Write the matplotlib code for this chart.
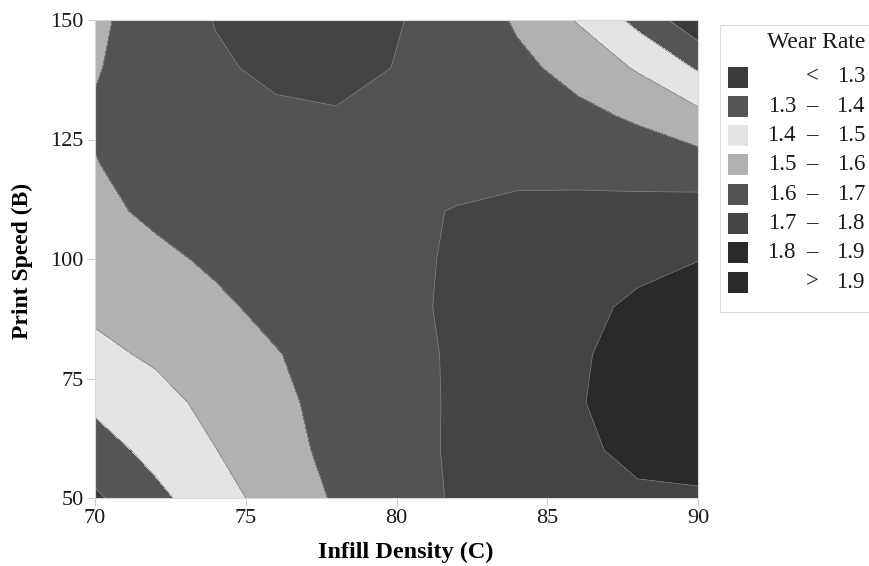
import matplotlib
matplotlib.use("Agg")
import matplotlib.pyplot as plt
import numpy as np
from matplotlib.patches import Rectangle

plt.rcParams["font.family"] = ["Liberation Serif", "DejaVu Serif"]

# grid
infill_density = [70, 72, 74, 76, 78, 80, 82, 84, 86, 88, 90]
print_speed = [50, 60, 70, 80, 90, 100, 110, 120, 130, 140, 150]

# wear rate, one row per print speed (50 -> 150), one column per infill density
wear_b050 = [1.285, 1.375, 1.46, 1.54, 1.61, 1.66, 1.71, 1.74, 1.765, 1.79, 1.79]
wear_b060 = [1.355, 1.43, 1.498, 1.565, 1.625, 1.668, 1.712, 1.745, 1.788, 1.815, 1.83]
wear_b070 = [1.42, 1.465, 1.53, 1.58, 1.63, 1.672, 1.71, 1.75, 1.795, 1.83, 1.85]
wear_b080 = [1.475, 1.515, 1.555, 1.595, 1.64, 1.675, 1.71, 1.745, 1.79, 1.83, 1.855]
wear_b090 = [1.52, 1.55, 1.583, 1.625, 1.66, 1.685, 1.71, 1.74, 1.77, 1.82, 1.84]
wear_b100 = [1.55, 1.58, 1.615, 1.645, 1.668, 1.688, 1.706, 1.725, 1.745, 1.77, 1.798]
wear_b110 = [1.578, 1.617, 1.645, 1.665, 1.68, 1.692, 1.702, 1.715, 1.72, 1.728, 1.74]
wear_b120 = [1.597, 1.635, 1.66, 1.675, 1.683, 1.686, 1.685, 1.68, 1.675, 1.66, 1.64]
wear_b130 = [1.61, 1.645, 1.67, 1.688, 1.695, 1.69, 1.675, 1.66, 1.625, 1.585, 1.525]
wear_b140 = [1.592, 1.655, 1.69, 1.715, 1.72, 1.698, 1.66, 1.625, 1.565, 1.49, 1.39]
wear_b150 = [1.58, 1.65, 1.703, 1.74, 1.74, 1.703, 1.68, 1.586, 1.494, 1.373, 1.23]

thresholds = [1.3, 1.4, 1.5, 1.6, 1.7, 1.8, 1.9]
band_colors = ["#3b3b3b", "#555555", "#e4e4e4", "#b1b1b1",
               "#535353", "#444444", "#2a2a2a", "#2a2a2a"]

wear = np.array([wear_b050, wear_b060, wear_b070, wear_b080, wear_b090, wear_b100,
                 wear_b110, wear_b120, wear_b130, wear_b140, wear_b150])
cc, bb = np.meshgrid(infill_density, print_speed)

fig = plt.figure(figsize=(8.7, 5.66), dpi=100)
ax = fig.add_axes([95 / 870, 68 / 566, 603 / 870, 478 / 566])

levels = [0.5] + thresholds + [2.5]
ax.contourf(cc, bb, wear, levels=levels, colors=band_colors)
ax.contour(cc, bb, wear, levels=thresholds, colors="#8a8a8a", linewidths=0.5)

ax.set_xlim(70, 90)
ax.set_ylim(50, 150)
ax.set_xticks([70, 75, 80, 85, 90])
ax.set_yticks([50, 75, 100, 125, 150])
ax.tick_params(direction="out", length=6, width=0.8, color="#cccccc",
               labelsize=16, labelcolor="#1a1a1a", pad=2)
for sp in ax.spines.values():
    sp.set_color("#d8d8d8")
    sp.set_linewidth(0.8)

ax.set_xlabel("Infill Density (C)", fontsize=17.5, fontweight="bold", va="center")
ax.xaxis.set_label_coords(0.515, -0.113)
ax.set_ylabel("Print Speed (B)", fontsize=17, fontweight="bold", va="center")
ax.yaxis.set_label_coords(-0.121, 0.495)

# legend drawn by hand in pixel units
lg = fig.add_axes([720 / 870, 254 / 566, 160 / 870, 288 / 566])
lg.set_xlim(720, 880)
lg.set_ylim(312, 24)
lg.axis("off")
lg.add_patch(Rectangle((720.5, 24.5), 170, 287, facecolor="white",
                       edgecolor="#dddddd", linewidth=0.8, clip_on=False))
lg.text(865, 43, "Wear Rate", ha="right", va="center", fontsize=17, color="#1a1a1a")

lower = [""] + [f"{t:.1f}" for t in thresholds[:-1]] + [""]
upper = [f"{t:.1f}" for t in thresholds] + [f"{thresholds[-1]:.1f}"]
symbols = ["<"] + ["–"] * (len(thresholds) - 1) + [">"]
for i, col in enumerate(band_colors):
    yc = 77 + i * 29.3
    lg.add_patch(Rectangle((728, yc - 10.5), 20, 21, facecolor=col,
                           edgecolor="none"))
    lg.text(796, yc, lower[i], ha="right", va="center", fontsize=16.5, color="#1a1a1a")
    lg.text(812, yc, symbols[i], ha="center", va="center", fontsize=16.5, color="#1a1a1a")
    lg.text(865, yc, upper[i], ha="right", va="center", fontsize=16.5, color="#1a1a1a")

fig.savefig("out.png", dpi=100)
